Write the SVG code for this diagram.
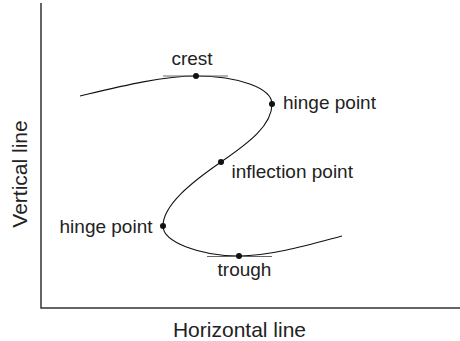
<svg xmlns="http://www.w3.org/2000/svg" width="460" height="341" viewBox="0 0 460 341">
<style>
text{font-family:"Liberation Sans",Arial,sans-serif;fill:#222;}
.lbl{font-size:19px;}
.ax{font-size:21px;}
.axis{stroke:#333;stroke-width:1.5;fill:none;}
.tan{stroke:#666;stroke-width:1;}
.curve{stroke:#111;stroke-width:1.1;fill:none;}
.dot{fill:#111;}
</style>
<rect width="460" height="341" fill="#fff"/>
<g id="axes">
<path class="axis" d="M41,3 V308 H460"/>
<text class="ax" x="239.5" y="336.5" text-anchor="middle">Horizontal line</text>
<text class="ax" transform="translate(27,174) rotate(-90)" text-anchor="middle">Vertical line</text>
</g>
<g id="connectors">
<path class="curve" d="M80,96 C118,87 162,76 196,76 C238,76 272,88 272,104 C272,125 250,142 221,162 S163,205 163,226 C163,242 200,256 239,256 C272,256 312,244 342,236"/>
<line class="tan" x1="163" y1="76" x2="228" y2="76"/>
<line class="tan" x1="207" y1="256.5" x2="272" y2="256.5"/>
</g>
<g id="crest"><circle class="dot" cx="196" cy="76" r="3"/><text class="lbl" x="192" y="65" text-anchor="middle">crest</text></g>
<g id="hinge-right"><circle class="dot" cx="272" cy="104" r="3"/><text class="lbl" x="283" y="108.5">hinge point</text></g>
<g id="inflection"><circle class="dot" cx="221" cy="162" r="3"/><text class="lbl" x="231.5" y="177.5">inflection point</text></g>
<g id="hinge-left"><circle class="dot" cx="163" cy="226" r="3"/><text class="lbl" x="152.5" y="233" text-anchor="end">hinge point</text></g>
<g id="trough"><circle class="dot" cx="239" cy="256" r="3"/><text class="lbl" x="244.5" y="276" text-anchor="middle">trough</text></g>
</svg>
